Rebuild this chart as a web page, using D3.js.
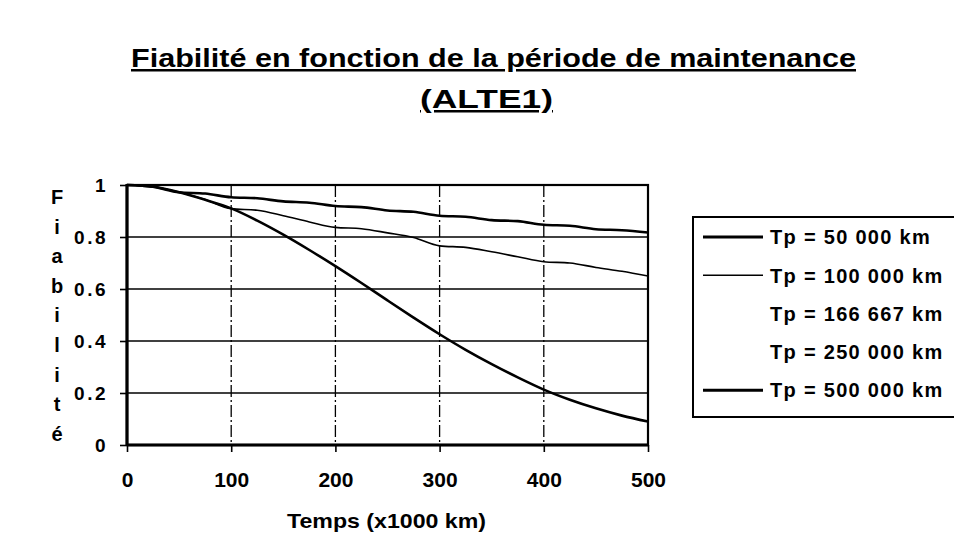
<!DOCTYPE html>
<html>
<head>
<meta charset="utf-8">
<script src="https://cdn.jsdelivr.net/npm/d3@7"></script>
<style>
  body { margin: 0; background: #fff; }
  svg { display: block; font-family: Arial, "Liberation Sans", sans-serif; font-weight: bold; }
</style>
</head>
<body>
<div id="chart-container" style="width:954px;height:560px"></div>
<script>
// temps en milliers de km
var temps = [0, 25, 50, 75, 100, 125, 150, 175, 200, 225, 250, 275, 300, 325, 350, 375, 400, 425, 450, 475, 500];

var tp50 = [1, 0.993, 0.972, 0.967, 0.953, 0.949, 0.937, 0.932, 0.919, 0.915, 0.902, 0.897, 0.882, 0.878, 0.865, 0.861, 0.847, 0.843, 0.830, 0.826, 0.817];
var tp100 = [1, 0.993, 0.972, 0.944, 0.909, 0.903, 0.882, 0.858, 0.837, 0.832, 0.816, 0.798, 0.766, 0.760, 0.743, 0.724, 0.705, 0.700, 0.683, 0.668, 0.650];
var tp500 = [1, 0.993, 0.972, 0.943, 0.910, 0.863, 0.809, 0.750, 0.688, 0.623, 0.556, 0.490, 0.426, 0.366, 0.311, 0.260, 0.213, 0.174, 0.141, 0.113, 0.090];

var legendLabels = ["Tp = 50 000 km", "Tp = 100 000 km", "Tp = 166 667 km", "Tp = 250 000 km", "Tp = 500 000 km"];
var legendWidths = [3, 1.6, 0, 0, 3];

var xTicks = [0, 100, 200, 300, 400, 500];
var yTicks = [0, 0.2, 0.4, 0.6, 0.8, 1];
var yLetters = ["F", "i", "a", "b", "i", "l", "i", "t", "é"];

var width = 954,
    height = 560,
    plotLeft = 127,
    plotRight = 648,
    plotTop = 185,
    plotBottom = 445;

var series = [
    { values: tp50, w: 2.6 },
    { values: tp100, w: 1.6 },
    { values: tp500, w: 2.6 }
];

var xScale = d3.scaleLinear().domain([0, 500]).range([plotLeft, plotRight]);
var yScale = d3.scaleLinear().domain([0, 1]).range([plotBottom, plotTop]);

var svg = d3.select("#chart-container").append("svg")
    .attr("width", width)
    .attr("height", height);

svg.append("rect").attr("width", width).attr("height", height).attr("fill", "#fff");

// titre
svg.append("text")
    .attr("x", 131).attr("y", 67)
    .attr("font-size", 25)
    .attr("textLength", 725)
    .attr("lengthAdjust", "spacingAndGlyphs")
    .attr("text-decoration", "underline")
    .text("Fiabilité en fonction de la période de maintenance");
svg.append("text")
    .attr("x", 420).attr("y", 108)
    .attr("font-size", 25)
    .attr("textLength", 133)
    .attr("lengthAdjust", "spacingAndGlyphs")
    .attr("text-decoration", "underline")
    .text("(ALTE1)");

// grille
svg.append("g")
    .selectAll("line")
    .data(yTicks.slice(1, -1))
    .enter().append("line")
    .attr("x1", plotLeft).attr("x2", plotRight)
    .attr("y1", d => yScale(d)).attr("y2", d => yScale(d))
    .attr("stroke", "#000").attr("stroke-width", 1.6);

svg.append("g")
    .selectAll("line")
    .data(xTicks.slice(1, -1))
    .enter().append("line")
    .attr("x1", d => xScale(d)).attr("x2", d => xScale(d))
    .attr("y1", plotTop).attr("y2", plotBottom)
    .attr("stroke", "#000").attr("stroke-width", 1.3)
    .attr("stroke-dasharray", "12,3,2,3");

// axes
var xAxis = d3.axisBottom(xScale).tickValues(xTicks).tickSize(7).tickPadding(20).tickFormat(d3.format("d"));
var yAxis = d3.axisLeft(yScale).tickValues(yTicks).tickSize(7).tickPadding(12).tickFormat(d => d === 0 || d === 1 ? d : d3.format(".1f")(d));

var gX = svg.append("g")
    .attr("transform", "translate(0," + plotBottom + ")")
    .call(xAxis);
gX.select(".domain").remove();
gX.selectAll("line").attr("stroke-width", 1.6);
gX.selectAll("text").attr("font-size", 21).attr("font-family", "Arial").attr("font-weight", "bold").attr("fill", "#000");

var gY = svg.append("g")
    .attr("transform", "translate(" + plotLeft + ",0)")
    .call(yAxis);
gY.select(".domain").remove();
gY.selectAll("line").attr("stroke-width", 1.6);
gY.selectAll("text").attr("font-size", 19).attr("font-family", "Arial").attr("font-weight", "bold")
    .attr("letter-spacing", 2.5).attr("fill", "#000").attr("dy", "0.36em");

// cadre
svg.append("rect")
    .attr("x", plotLeft).attr("y", plotTop)
    .attr("width", plotRight - plotLeft).attr("height", plotBottom - plotTop)
    .attr("fill", "none").attr("stroke", "#000").attr("stroke-width", 2.2);
svg.append("line").attr("x1", plotLeft).attr("x2", plotLeft).attr("y1", plotTop - 1).attr("y2", plotBottom + 1)
    .attr("stroke", "#000").attr("stroke-width", 3.2);
svg.append("line").attr("x1", plotLeft).attr("x2", plotRight).attr("y1", plotBottom).attr("y2", plotBottom)
    .attr("stroke", "#000").attr("stroke-width", 3.2);

// courbes
var line = d3.line()
    .x((d, i) => xScale(temps[i]))
    .y(d => yScale(d))
    .curve(d3.curveMonotoneX);

svg.append("g")
    .selectAll("path")
    .data(series)
    .enter().append("path")
    .attr("d", d => line(d.values))
    .attr("fill", "none")
    .attr("stroke", "#000")
    .attr("stroke-width", d => d.w);

// titres des axes
svg.append("text")
    .attr("x", 287).attr("y", 528)
    .attr("font-size", 21)
    .attr("textLength", 199)
    .attr("lengthAdjust", "spacingAndGlyphs")
    .text("Temps (x1000 km)");

svg.append("g")
    .selectAll("text")
    .data(yLetters)
    .enter().append("text")
    .attr("x", 57)
    .attr("y", (d, i) => 204 + i * 29.6)
    .attr("text-anchor", "middle")
    .attr("font-size", 20)
    .text(d => d);

// légende
var legend = svg.append("g");
legend.append("rect")
    .attr("x", 693).attr("y", 217)
    .attr("width", 280).attr("height", 200)
    .attr("fill", "#fff").attr("stroke", "#000").attr("stroke-width", 2);

var items = legend.selectAll("g.item")
    .data(legendLabels)
    .enter().append("g")
    .attr("class", "item")
    .attr("transform", (d, i) => "translate(0," + (237 + i * 38.3) + ")");

items.append("line")
    .attr("x1", 703).attr("x2", 763)
    .attr("stroke", "#000")
    .attr("stroke-width", (d, i) => legendWidths[i])
    .attr("opacity", (d, i) => legendWidths[i] ? 1 : 0);

items.append("text")
    .attr("x", 770).attr("dy", "0.36em")
    .attr("font-size", 20)
    .attr("letter-spacing", 1.3)
    .text(d => d);
</script>
</body>
</html>
